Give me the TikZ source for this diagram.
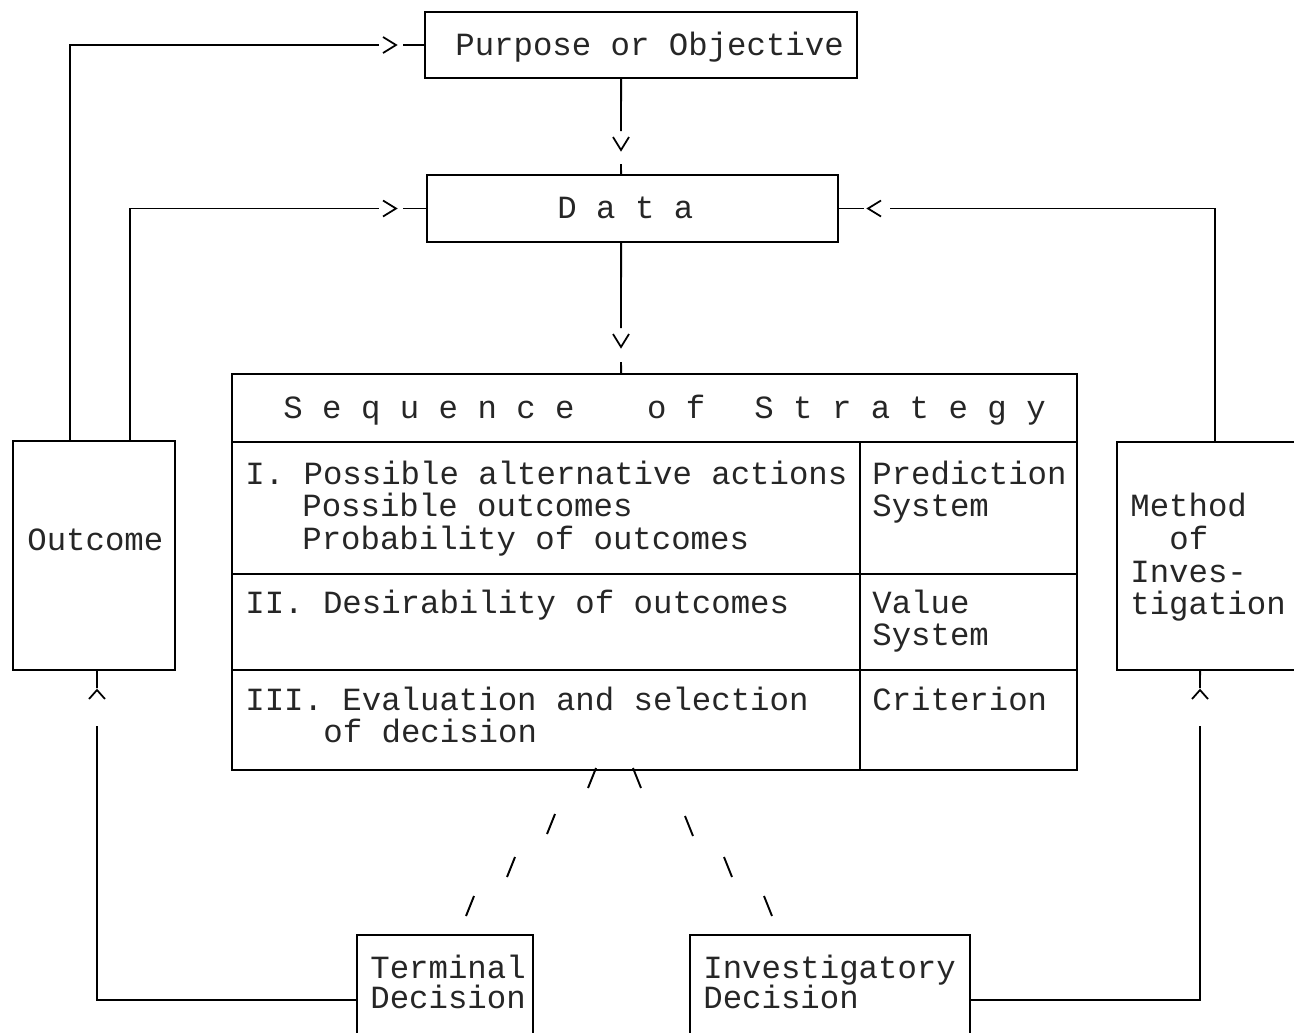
\documentclass[tikz,border=0pt]{standalone}
\usepackage{fontspec}
\newfontfamily\dm{Liberation Mono}
\usetikzlibrary{calc}
\begin{document}
\begin{tikzpicture}[x=0.02cm,y=-0.02cm,
  ln/.style={line width=1.1pt},
  box/.style={draw,line width=1.1pt,inner sep=0pt,outer sep=0pt,rectangle},
  txt/.style={anchor=base west,inner sep=0pt,text=black!85,font=\dm\fontsize{18.42pt}{18.42pt}\selectfont},
  chev/.pic={\draw[line width=1pt] (-13,-8) -- (0,0) -- (-13,8);},
  smallchev/.pic={\draw[line width=1pt] (-9,-8) -- (0,0) -- (-9,8);}]
\useasboundingbox (0,0) rectangle (1294,1032);
\clip (0,0) rectangle (1294,1032);

% boxes
\node[box,minimum width=8.64cm,minimum height=1.32cm] (purpose) at (641,45) {};
\node[box,minimum width=8.22cm,minimum height=1.34cm] (data) at (632.5,208.5) {};
\node[box,minimum width=16.9cm,minimum height=7.92cm] (table) at (654.5,572) {};
\node[box,minimum width=3.24cm,minimum height=4.58cm] (outcome) at (94,555.5) {};
\node[box,minimum width=4.26cm,minimum height=4.56cm] (method) at (1223.5,556) {};
\node[box,minimum width=3.52cm,minimum height=2.6cm] (terminal) at (445,1000) {};
\node[box,minimum width=5.6cm,minimum height=2.6cm] (invest) at (830,1000) {};

% table inner lines
\draw[ln] (table.west |- 0,442) -- (table.east |- 0,442);
\draw[ln] (table.west |- 0,574) -- (table.east |- 0,574);
\draw[ln] (table.west |- 0,670) -- (table.east |- 0,670);
\draw[ln] (860,442) -- (860,442 |- table.south);

% texts
\node[txt] (tpurpose) at (455,55) {Purpose or Objective};
\node[txt] (tdata) at (557,218) {D a t a};
\node[txt] (thead) at (283,418) {S~e~q~u~e~n~c~e\hspace{1.45cm}o~f\hspace{0.98cm}S~t~r~a~t~e~g~y};
\node[txt] (t1a) at (245,484) {I. Possible alternative actions};
\node[txt] (t1b) at (302,516) {Possible outcomes};
\node[txt] (t1c) at (302,549) {Probability of outcomes};
\node[txt] (t1d) at (872,484) {Prediction};
\node[txt] (t1e) at (872,516) {System};
\node[txt] (t2a) at (245,613) {II. Desirability of outcomes};
\node[txt] (t2b) at (872,613) {Value};
\node[txt] (t2c) at (872,645) {System};
\node[txt] (t3a) at (245,710) {III. Evaluation and selection};
\node[txt] (t3b) at (323,742) {of decision};
\node[txt] (t3c) at (872,710) {Criterion};
\node[txt] (toutcome) at (27,550) {Outcome};
\node[txt] (tm1) at (1130,516) {Method};
\node[txt] (tm2) at (1169,549) {of};
\node[txt] (tm3) at (1130,582) {Inves-};
\node[txt] (tm4) at (1130,614) {tigation};
\node[txt] (tt1) at (370,978) {Terminal};
\node[txt] (tt2) at (370,1008) {Decision};
\node[txt] (ti1) at (703,978) {Investigatory};
\node[txt] (ti2) at (703,1008) {Decision};

% connector A: outcome -> purpose
\coordinate (a1) at (379,45); \coordinate (a1t) at (396,45); \coordinate (a1s) at (403,45);
\draw[ln] ($(outcome.north west)+(57,0)$) |- (a1);
\pic at (a1t) {chev};
\draw[ln] (a1s) -- (purpose.west);

% connector B: outcome -> data
\coordinate (b1) at (379,208.5); \coordinate (b1t) at (396,208.5); \coordinate (b1s) at (403,208.5);
\draw[ln] ($(outcome.north west)+(117,0)$) |- (b1);
\pic at (b1t) {chev};
\draw[ln] (b1s) -- (data.west);

% connector C: method -> data
\coordinate (c1) at (890,208.5); \coordinate (c1t) at (868,208.5); \coordinate (c1s) at (864,208.5);
\draw[ln] ($(method.north west)+(98,0)$) |- (c1);
\pic[rotate=180] at (c1t) {chev};
\draw[ln] (c1s) -- (data.east);

% connector D: purpose -> data
\coordinate (d1) at (621,131); \coordinate (d1t) at (621,150); \coordinate (d1s) at (621,164);
\draw[ln] ($(purpose.south west)+(196,0)$) -- (d1);
\pic[rotate=-90] at (d1t) {chev};
\draw[ln] (d1s) -- ($(data.north west)+(194,0)$);

% connector E: data -> table
\coordinate (e1) at (621,328); \coordinate (e1t) at (621,347); \coordinate (e1s) at (621,362);
\draw[ln] ($(data.south west)+(194,0)$) -- (e1);
\pic[rotate=-90] at (e1t) {chev};
\draw[ln] (e1s) -- ($(table.north west)+(389,0)$);

% connector F: terminal -> outcome
\coordinate (f1) at (97,726); \coordinate (f1t) at (97,690); \coordinate (f1s) at (97,688);
\draw[ln] (terminal.west) -| (f1);
\pic[rotate=90] at (f1t) {smallchev};
\draw[ln] (f1s) -- ($(outcome.south west)+(84,0)$);

% connector G: investigatory -> method
\coordinate (g1) at (1200,726); \coordinate (g1t) at (1200,690); \coordinate (g1s) at (1200,688);
\draw[ln] (invest.east) -| (g1);
\pic[rotate=90] at (g1t) {smallchev};
\draw[ln] (g1s) -- ($(method.south west)+(83,0)$);

% dashed branches from the table to the decisions
\foreach \cx/\cy in {592/778, 551/824, 511/867, 470/906}
  \draw[ln] (\cx-4,\cy+10) -- (\cx+4,\cy-10);
\foreach \cx/\cy in {637/778, 689/826, 728/867, 768/906}
  \draw[ln] (\cx-4,\cy-10) -- (\cx+4,\cy+10);
\end{tikzpicture}
\end{document}
